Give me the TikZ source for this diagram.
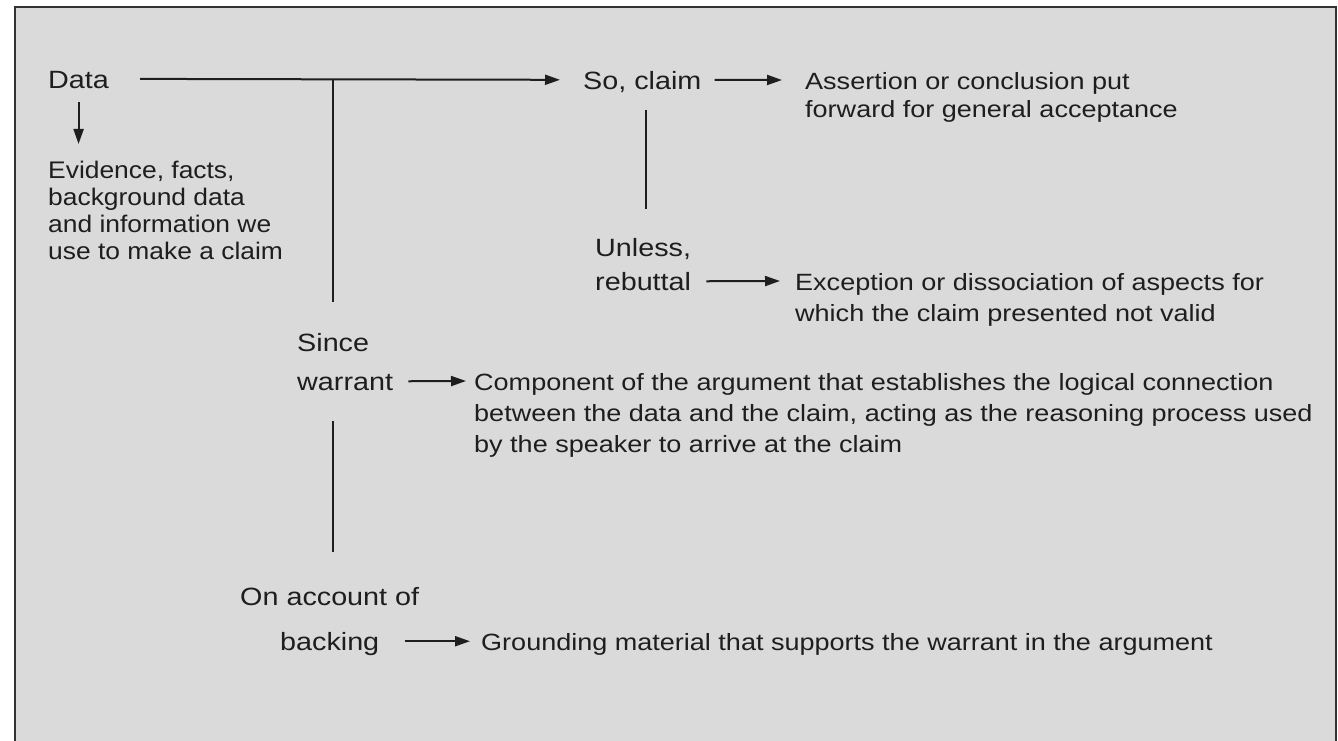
\documentclass[tikz,border=0pt]{standalone}
\usepackage{fontspec}
\setmainfont{Liberation Sans}
\newfontfamily\labfont[FakeStretch=1.15]{Liberation Sans}
\newfontfamily\evidfont[FakeStretch=1.1]{Liberation Sans}
\usetikzlibrary{arrows.meta}
\definecolor{panel}{HTML}{DADADA}
\definecolor{ink}{HTML}{1E1E1E}
\definecolor{frame}{HTML}{333333}
\begin{document}
\begin{tikzpicture}[x=1pt,y=-1pt,
  lab/.style={font=\labfont\fontsize{25}{26}\selectfont, text=ink, inner sep=0pt, anchor=north west},
  evid/.style={font=\evidfont\fontsize{24}{27}\selectfont, text=ink, inner sep=0pt, anchor=north west, align=left},
  desc/.style={font=\labfont\fontsize{23.5}{31}\selectfont, text=ink, inner sep=0pt, anchor=north west, align=left},
  ln/.style={draw=ink, line width=2pt},
  arr/.style={ln, -{Triangle[length=15pt,width=10pt]}}]
\useasboundingbox (0,0) rectangle (1338,741);
\fill[white] (0,0) rectangle (1338,741);
\fill[panel] (15,7) rectangle (1336,741);
\draw[frame, line width=2.5pt] (15,741) -- (15,7) -- (1336,7) -- (1336,741);

% labels of the argument parts
\node[lab] (data) at (48,71) {Data};
\node[evid] (evid) at (48,161) {Evidence, facts,\\background data\\and information we\\use to make a claim};
\node[lab] (claim) at (583,71) {So, claim};
\node[lab, align=left] (rebut) at (595,238) {Unless,\\[8pt]rebuttal};
\node[lab, align=left] (warrant) at (297,333) {Since\\[13pt]warrant};
\node[lab, align=center] (backing) at (240,587) {On account of\\[19pt]backing};

% explanations
\node[desc, font=\labfont\fontsize{23.5}{28}\selectfont] (assert) at (805,72) {Assertion or conclusion put\\forward for general acceptance};
\node[desc] (except) at (795,273) {Exception or dissociation of aspects for\\which the claim presented not valid};
\node[desc] (comp) at (474,373) {Component of the argument that establishes the logical connection\\between the data and the claim, acting as the reasoning process used\\by the speaker to arrive at the claim};
\node[desc] (ground) at (481,633) {Grounding material that supports the warrant in the argument};

% connectors
\coordinate (fork) at (333,79.5);
\draw[arr] ([shift={(31pt,9.5pt)}]data.base east) -- ([shift={(-23pt,9.5pt)}]claim.base west);
\draw[ln, shorten >=31pt] (fork) -- (fork |- warrant.north);
\draw[ln, shorten <=30pt, shorten >=35pt] (fork |- warrant.south) -- (fork |- backing.north);
\draw[arr, shorten <=13pt, shorten >=17pt] (data.south) -- (data.south |- evid.north);
\draw[ln, shorten <=17pt, shorten >=29pt] ([xshift=4pt]claim.south) -- ([xshift=4pt]claim.south |- rebut.north);
\draw[arr] ([shift={(13pt,9.5pt)}]claim.base east) -- ([shift={(-23pt,-8pt)}]assert.north west);
\draw[arr] ([shift={(15pt,9.5pt)}]rebut.south east) -- ([shift={(-15pt,-8pt)}]except.north west);
\draw[arr] ([shift={(15pt,9.5pt)}]warrant.south east) -- ([shift={(-8pt,-8pt)}]comp.north west);
\draw[arr] ([shift={(75pt,9pt)}]backing.south |- ground.base west) -- ([shift={(-11pt,9pt)}]ground.base west);
\end{tikzpicture}
\end{document}
